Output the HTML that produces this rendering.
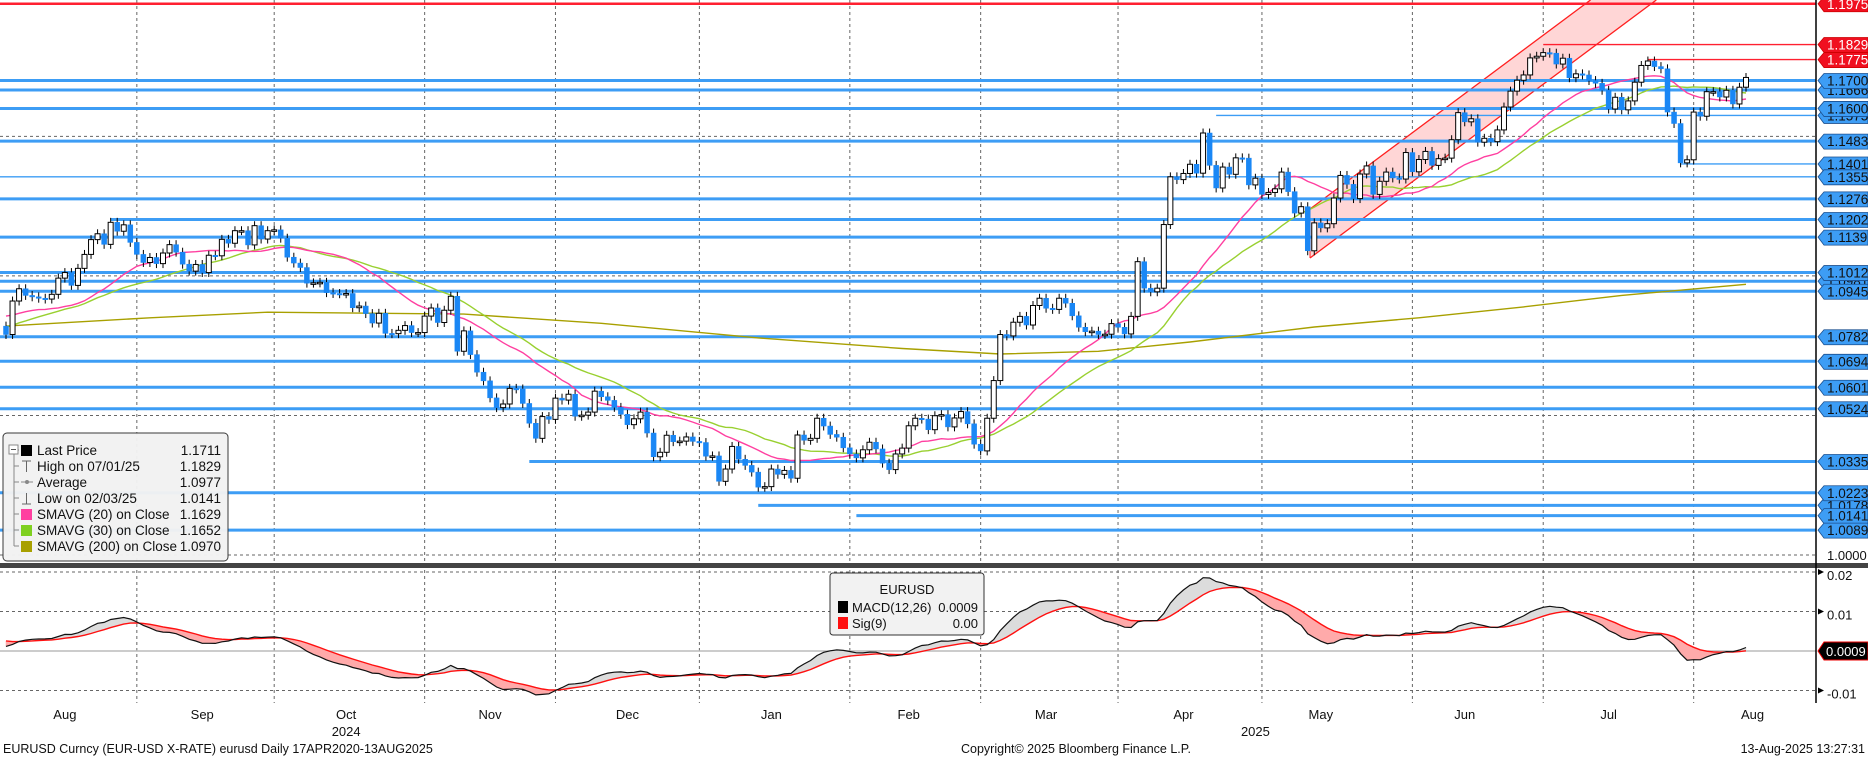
<!DOCTYPE html>
<html><head><meta charset="utf-8"><title>EURUSD Daily</title>
<style>
html,body{margin:0;padding:0;background:#fff;}
svg{display:block;font-family:"Liberation Sans Narrow","Liberation Sans",sans-serif;}
</style></head>
<body>
<svg id="chart" width="1868" height="757" viewBox="0 0 1868 757" xmlns="http://www.w3.org/2000/svg">
<g id="grid"></g>
<g id="channel"></g>
<g id="levels"></g>
<g id="smas"></g>
<g id="candles"></g>
<g id="macd"></g>
<g id="axis"></g>
<g id="xaxis"></g>
<g id="legend"></g>
<g id="macdlegend"></g>
<g id="footer"></g>
</svg>
<script>
// ---------- DATA ----------
const priorCloses = [1.0714,1.0690,1.0720,1.0700,1.0713,1.0712,
 1.0740,1.0790,1.0790,1.0810,1.0840,1.0825,1.0815,1.0830,1.0865,1.0900,1.0880,1.0940,1.0904,1.0890,1.0880,1.0895,1.0855,1.0845,1.0850,1.0855,1.0815,1.0825,1.0820];
const closes = [
 // Aug 2024
 1.0790,1.0910,1.0954,1.0930,1.0925,1.0920,1.0917,1.0934,1.0992,1.1012,1.0966,1.1027,1.1077,1.1130,1.1151,1.1113,1.1192,1.1160,1.1183,1.1120,1.1077,1.1048,
 // Sep
 1.1066,1.1044,1.1082,1.1112,1.1085,1.1042,1.1017,1.1041,1.1012,1.1074,1.1072,1.1131,1.1117,1.1162,1.1162,1.1111,1.1180,1.1132,1.1162,1.1165,1.1135,
 // Oct
 1.1067,1.1046,1.1030,1.0974,1.0975,1.0977,1.0940,1.0937,1.0936,1.0937,1.0886,1.0892,1.0865,1.0831,1.0866,1.0794,1.0793,1.0805,1.0822,1.0797,1.0797,1.0856,1.0885,
 // Nov
 1.0833,1.0877,1.0927,1.0730,1.0803,1.0718,1.0655,1.0624,1.0563,1.0528,1.0541,1.0597,1.0595,1.0543,1.0472,1.0418,1.0496,1.0486,1.0562,1.0555,1.0576,
 // Dec
 1.0497,1.0501,1.0512,1.0587,1.0567,1.0554,1.0529,1.0504,1.0467,1.0488,1.0512,1.0437,1.0352,1.0368,1.0429,1.0406,1.0408,1.0423,1.0407,1.0403,1.0354,
 // Jan 2025
 1.0355,1.0264,1.0308,1.0389,1.0343,1.0321,1.0297,1.0243,1.0245,1.0308,1.0289,1.0303,1.0275,1.0430,1.0411,1.0418,1.0490,1.0462,1.0432,1.0422,1.0384,1.0362,
 // Feb
 1.0348,1.0377,1.0404,1.0380,1.0329,1.0306,1.0362,1.0383,1.0463,1.0490,1.0487,1.0449,1.0499,1.0503,1.0459,1.0491,1.0514,1.0470,1.0397,1.0373,
 // Mar
 1.0490,1.0625,1.0790,1.0785,1.0834,1.0855,1.0824,1.0894,1.0920,1.0884,1.0880,1.0920,1.0902,1.0857,1.0816,1.0800,1.0802,1.0790,1.0791,1.0829,1.0816,
 // Apr
 1.0792,1.0855,1.1051,1.0956,1.0943,1.0956,1.1184,1.1355,1.1345,1.1367,1.1400,1.1368,1.1512,1.1396,1.1315,1.1390,1.1364,1.1423,1.1422,1.1326,1.1350,
 // May
 1.1292,1.1299,1.1312,1.1372,1.1302,1.1225,1.1248,1.1090,1.1190,1.1172,1.1187,1.1279,1.1360,1.1328,1.1277,1.1365,1.1394,1.1292,1.1339,1.1372,1.1351,1.1347,
 // Jun
 1.1442,1.1373,1.1417,1.1446,1.1396,1.1420,1.1422,1.1488,1.1585,1.1552,1.1563,1.1479,1.1493,1.1481,1.1523,1.1605,1.1662,1.1701,1.1720,1.1781,1.1787,
 // Jul
 1.1800,1.1798,1.1759,1.1780,1.1710,1.1724,1.1720,1.1700,1.1690,1.1665,1.1598,1.1640,1.1595,1.1627,1.1694,1.1754,1.1770,1.1750,1.1742,1.1587,1.1546,1.1405,1.1416,
 // Aug 2025
 1.1587,1.1572,1.1660,1.1660,1.1641,1.1665,1.1616,1.1676,1.1711
];
const sma200Idx = [0,22,40,70,91,115,137,152,167,181,200,216,232,247,266];
const sma200Val = [1.0820,1.0850,1.0870,1.0863,1.0830,1.0778,1.0740,1.0720,1.0730,1.0763,1.0817,1.0850,1.0889,1.0930,1.0970];
const levelValues = [1.1975,1.1829,1.1775,1.1700,1.1666,1.1600,1.1575,1.1483,1.1401,1.1355,1.1276,1.1202,1.1139,1.1012,1.0981,1.0945,1.0782,1.0694,1.0601,1.0524,1.0335,1.0223,1.0178,1.0141,1.0089];
const levelStartIdx = [0,235,251,0,0,0,185,0,256,0,0,16,0,0,0,0,0,0,0,0,80,0,115,130,0];
const levelRed = [1,1,1,0,0,0,0,0,0,0,0,0,0,0,0,0,0,0,0,0,0,0,0,0,0];
const levelThin = [0,1,1,0,0,0,1,0,1,1,0,0,0,0,0,0,0,0,0,0,0,0,0,0,0];
const labelOrder = [4,6,14,22,23,0,1,2,3,5,7,8,9,10,11,12,13,15,16,17,18,19,20,21,24];
const monthLabels = ["Aug","Sep","Oct","Nov","Dec","Jan","Feb","Mar","Apr","May","Jun","Jul","Aug"];
const monthIdx = [9,30,52,74,95,117,138,159,180,201,223,245,267];
const gridIdx = [20,41,64,84,106,129,149,170,192,215,235,258];
const yearLabels = ["2024","2025"];
const yearIdx = [52,191];
const priceTicks = [1.0,1.05,1.10,1.15];
const macdTicks = [0.02,0.01,-0.01];

// ---------- SCALES ----------
const NS="http://www.w3.org/2000/svg";
const X0=6, X1=1746;
const n=closes.length;
function xs(i){return X0+i*(X1-X0)/(n-1);}
function ys(p){return 555-(p-1.0)*2791;}
function ym(v){return 651-v*3950;}
function mk(tag,attrs,parent){const e=document.createElementNS(NS,tag);for(const k in attrs)e.setAttribute(k,attrs[k]);parent.appendChild(e);return e;}
const G=id=>document.getElementById(id);

// ---------- GRID ----------
const grid=G('grid');
gridIdx.forEach(i=>{
  const l=mk('line',{x1:xs(i),x2:xs(i),y1:0,y2:703,stroke:'#666','stroke-width':1,'stroke-dasharray':'3,3'},grid);
  
  
});
priceTicks.forEach(p=>{
  const l=mk('line',{x1:0,x2:1816,y1:ys(p),y2:ys(p),stroke:'#666','stroke-width':1,'stroke-dasharray':'3,3'},grid);
  
  
});
macdTicks.forEach(v=>{
  const l=mk('line',{x1:0,x2:1816,y1:ym(v),y2:ym(v),stroke:'#666','stroke-width':1,'stroke-dasharray':'3,3'},grid);
  
  
});

// ---------- CHANNEL ----------
const ch=G('channel');
const cx0=1310, slope=0.745;
const poly=mk('polygon',{points:`${cx0},${209} ${cx0+209/slope},0 ${cx0+258/slope},0 ${cx0},258`,fill:'#ffd6d6',stroke:'none'},ch);


const cu=mk('line',{x1:cx0,y1:209,x2:cx0+209/slope,y2:0,stroke:'#ff2020','stroke-width':1.3},ch);


const cl=mk('line',{x1:cx0,y1:258,x2:cx0+258/slope,y2:0,stroke:'#ff2020','stroke-width':1.3},ch);


const ce=mk('line',{x1:cx0,y1:209,x2:cx0,y2:258,stroke:'#ff2020','stroke-width':1},ch);



// ---------- LEVELS ----------
const lv=G('levels');
levelValues.forEach((v,k)=>{
  const xStart=levelStartIdx[k]?xs(levelStartIdx[k]):0;
  const col=levelRed[k]?'#ff2030':'#3d9df5';
  const w=levelThin[k]?1.4:(levelRed[k]?2.5:3);
  const l=mk('line',{x1:xStart,x2:1816,y1:ys(v),y2:ys(v),stroke:col,'stroke-width':w},lv);
  
  
});

// ---------- SMAs ----------
const all=priorCloses.concat(closes);
const off=priorCloses.length;
function sma(per){const out=[];for(let i=0;i<n;i++){let s=0,c=0;for(let j=i+off-per+1;j<=i+off;j++){if(j>=0){s+=all[j];c++;}}out.push(s/c);}return out;}
const s20=sma(20), s30=sma(30);
const sm=G('smas');
function pline(vals,col,name,idx){
  const pts=vals.map((v,k)=>`${xs(idx?idx[k]:k).toFixed(1)},${ys(v).toFixed(1)}`).join(' ');
  const p=mk('polyline',{points:pts,fill:'none',stroke:col,'stroke-width':1.4},sm);
  return p;
}
const p200=pline(sma200Val,'#a8a000','sma200',sma200Idx);


const p30=pline(s30,'#99d030','sma30');


const p20=pline(s20,'#ff3fa0','sma20');



// ---------- CANDLES ----------
const cg=G('candles');
for(let i=0;i<n;i++){
  const c=closes[i], o=i>0?closes[i-1]:priorCloses[priorCloses.length-1];
  const hi=Math.max(o,c)+0.0016, lo=Math.min(o,c)-0.0016;
  const x=xs(i);
  const w=mk('line',{x1:x,x2:x,y1:ys(hi),y2:ys(lo),stroke:'#000','stroke-width':1},cg);
  
  
  const top=ys(Math.max(o,c)), h=Math.max(1.5,ys(Math.min(o,c))-top);
  const up=c>=o;
  const b=mk('rect',{x:x-2.5,y:top,width:5,height:h,fill:up?'#fff':'#1a87f5',stroke:up?'#000':'#1a87f5','stroke-width':up?1:0.5},cg);
  
  
}

// ---------- MACD ----------
function ema(arr,p){const k=2/(p+1);const out=[arr[0]];for(let i=1;i<arr.length;i++)out.push(arr[i]*k+out[i-1]*(1-k));return out;}
const e12=ema(all,12), e26=ema(all,26);
const macdAll=all.map((v,i)=>e12[i]-e26[i]);
const sigAll=ema(macdAll,9);
const macd=macdAll.slice(off), sig=sigAll.slice(off);
const mg=G('macd');
const zl=mk('line',{x1:0,x2:1816,y1:ym(0),y2:ym(0),stroke:'#bbb','stroke-width':1.5},mg);


for(let i=0;i<n-1;i++){
  const d=(macd[i]-sig[i])+(macd[i+1]-sig[i+1]);
  const q=mk('polygon',{points:`${xs(i)},${ym(macd[i])} ${xs(i+1)},${ym(macd[i+1])} ${xs(i+1)},${ym(sig[i+1])} ${xs(i)},${ym(sig[i])}`,fill:d>0?'#dcdcdc':'#ffaaaa',stroke:d>0?'#dcdcdc':'#ffaaaa','stroke-width':0.5},mg);
  
  
}
const sl=mk('polyline',{points:sig.map((v,i)=>`${xs(i).toFixed(1)},${ym(v).toFixed(1)}`).join(' '),fill:'none',stroke:'#ff1010','stroke-width':1.4},mg);


const ml=mk('polyline',{points:macd.map((v,i)=>`${xs(i).toFixed(1)},${ym(v).toFixed(1)}`).join(' '),fill:'none',stroke:'#111','stroke-width':1.2},mg);



// ---------- AXIS ----------
const ax=G('axis');
const sep=mk('rect',{x:0,y:563,width:1868,height:5,fill:'#444'},ax);


const av=mk('line',{x1:1816,x2:1816,y1:0,y2:703,stroke:'#000','stroke-width':1.5},ax);


const t0=mk('text',{x:1827,y:ys(1.0)+5,'font-size':13,fill:'#111'},ax);t0.textContent='1.0000';


macdTicks.forEach(v=>{
  const t=mk('text',{x:1827,y:ym(v)+8,'font-size':13,fill:'#111'},ax);
  t.textContent=v===-0.01?'-0.01':v.toFixed(2);
  
  
  mk('path',{d:`M1818,${ym(v)-3} L1824,${ym(v)} L1818,${ym(v)+3}Z`,fill:'#000'},ax);
});
labelOrder.forEach(k=>{
  const v=levelValues[k], y=ys(v);
  const red=levelRed[k];
  const g=mk('g',{},ax);
  
  
  mk('path',{d:`M1818,${y} L1824,${y-7} L1868,${y-7} L1868,${y+8} L1824,${y+8} Z`,fill:red?'#f01020':'#3d9df5',stroke:red?'#c00':'#1a4f8f','stroke-width':0.8},g);
  const t=mk('text',{x:1827,y:y+5,'font-size':13.5,fill:red?'#fff':'#111'},g);
  t.textContent=v.toFixed(4);
});
const mb=mk('g',{},ax);


mk('path',{d:`M1818,${ym(0)} L1824,${ym(0)-9} L1868,${ym(0)-9} L1868,${ym(0)+9} L1824,${ym(0)+9} Z`,fill:'#000',stroke:'#e00','stroke-width':1},mb);
const mbt=mk('text',{x:1826,y:ym(0)+5,'font-size':13,fill:'#fff'},mb);mbt.textContent='0.0009';

// ---------- X AXIS ----------
const xa=G('xaxis');
monthLabels.forEach((m,k)=>{
  const t=mk('text',{x:xs(monthIdx[k])-(k===0?0:0),y:719,'font-size':13,'text-anchor':'middle',fill:'#111'},xa);
  t.textContent=m;
  
  
});
yearLabels.forEach((yv,k)=>{
  const t=mk('text',{x:xs(yearIdx[k]),y:736,'font-size':13,'text-anchor':'middle',fill:'#111'},xa);
  t.textContent=yv;
  
  
});

// ---------- LEGEND ----------
const lg=G('legend');
const lb=mk('rect',{x:3,y:433,width:225,height:128,rx:4,fill:'#f2f2f2',stroke:'#333','stroke-width':1,opacity:0.97},lg);


const rows=[["Last Price","1.1711","#000","sq"],["High on 07/01/25","1.1829","#666","T"],["Average","1.0977","#888","avg"],["Low on 02/03/25","1.0141","#666","L"],["SMAVG (20)  on Close","1.1629","#ff3fa0","sq"],["SMAVG (30)  on Close","1.1652","#7fd020","sq"],["SMAVG (200)  on Close","1.0970","#a8a000","sq"]];
mk('line',{x1:14,x2:14,y1:450,y2:546,stroke:'#888','stroke-width':1},lg);
rows.forEach((r,k)=>{
  const y=450+k*16;
  const g=mk('g',{},lg);
  
  
  mk('line',{x1:14,x2:19,y1:y,y2:y,stroke:'#888'},g);
  if(r[3]==='sq')mk('rect',{x:21,y:y-5,width:11,height:11,fill:r[2]},g);
  else if(r[3]==='T'){mk('line',{x1:22,x2:31,y1:y-5,y2:y-5,stroke:'#666'},g);mk('line',{x1:26.5,x2:26.5,y1:y-5,y2:y+6,stroke:'#666'},g);}
  else if(r[3]==='L'){mk('line',{x1:22,x2:31,y1:y+6,y2:y+6,stroke:'#666'},g);mk('line',{x1:26.5,x2:26.5,y1:y-5,y2:y+6,stroke:'#666'},g);}
  else {mk('line',{x1:21,x2:33,y1:y,y2:y,stroke:'#888'},g);mk('circle',{cx:27,cy:y,r:2,fill:'#888'},g);}
  const t=mk('text',{x:37,y:y+5,'font-size':13.5,fill:'#111'},g);t.textContent=r[0];
  const tv=mk('text',{x:221,y:y+5,'font-size':13.5,'text-anchor':'end',fill:'#111'},g);tv.textContent=r[1];
});
mk('rect',{x:9,y:445,width:9,height:9,fill:'#fff',stroke:'#888'},lg);
mk('line',{x1:11,x2:16,y1:449.5,y2:449.5,stroke:'#555'},lg);

// ---------- MACD LEGEND ----------
const mlg=G('macdlegend');
const mbx=mk('rect',{x:830,y:573,width:154,height:62,rx:3,fill:'#f2f2f2',stroke:'#333','stroke-width':1},mlg);


const mt=mk('text',{x:907,y:594,'font-size':13,'text-anchor':'middle',fill:'#111'},mlg);mt.textContent='EURUSD';
[["MACD(12,26)","0.0009","#000"],["Sig(9)","0.00","#ff1010"]].forEach((r,k)=>{
  const y=607+k*16;
  const g=mk('g',{},mlg);
  
  
  mk('rect',{x:838,y:y-6,width:10,height:12,fill:r[2]},g);
  const t=mk('text',{x:852,y:y+5,'font-size':13,fill:'#111'},g);t.textContent=r[0];
  const v=mk('text',{x:978,y:y+5,'font-size':13,'text-anchor':'end',fill:'#111'},g);v.textContent=r[1];
});

// ---------- FOOTER ----------
const ft=G('footer');
const f1=mk('text',{x:3,y:753,'font-size':12.5,fill:'#111'},ft);f1.textContent='EURUSD Curncy (EUR-USD X-RATE) eurusd  Daily 17APR2020-13AUG2025';


const f2=mk('text',{x:961,y:753,'font-size':12.5,fill:'#111'},ft);f2.textContent='Copyright© 2025 Bloomberg Finance L.P.';


const f3=mk('text',{x:1865,y:753,'font-size':12.5,'text-anchor':'end',fill:'#111'},ft);f3.textContent='13-Aug-2025 13:27:31';


</script>
</body></html>
